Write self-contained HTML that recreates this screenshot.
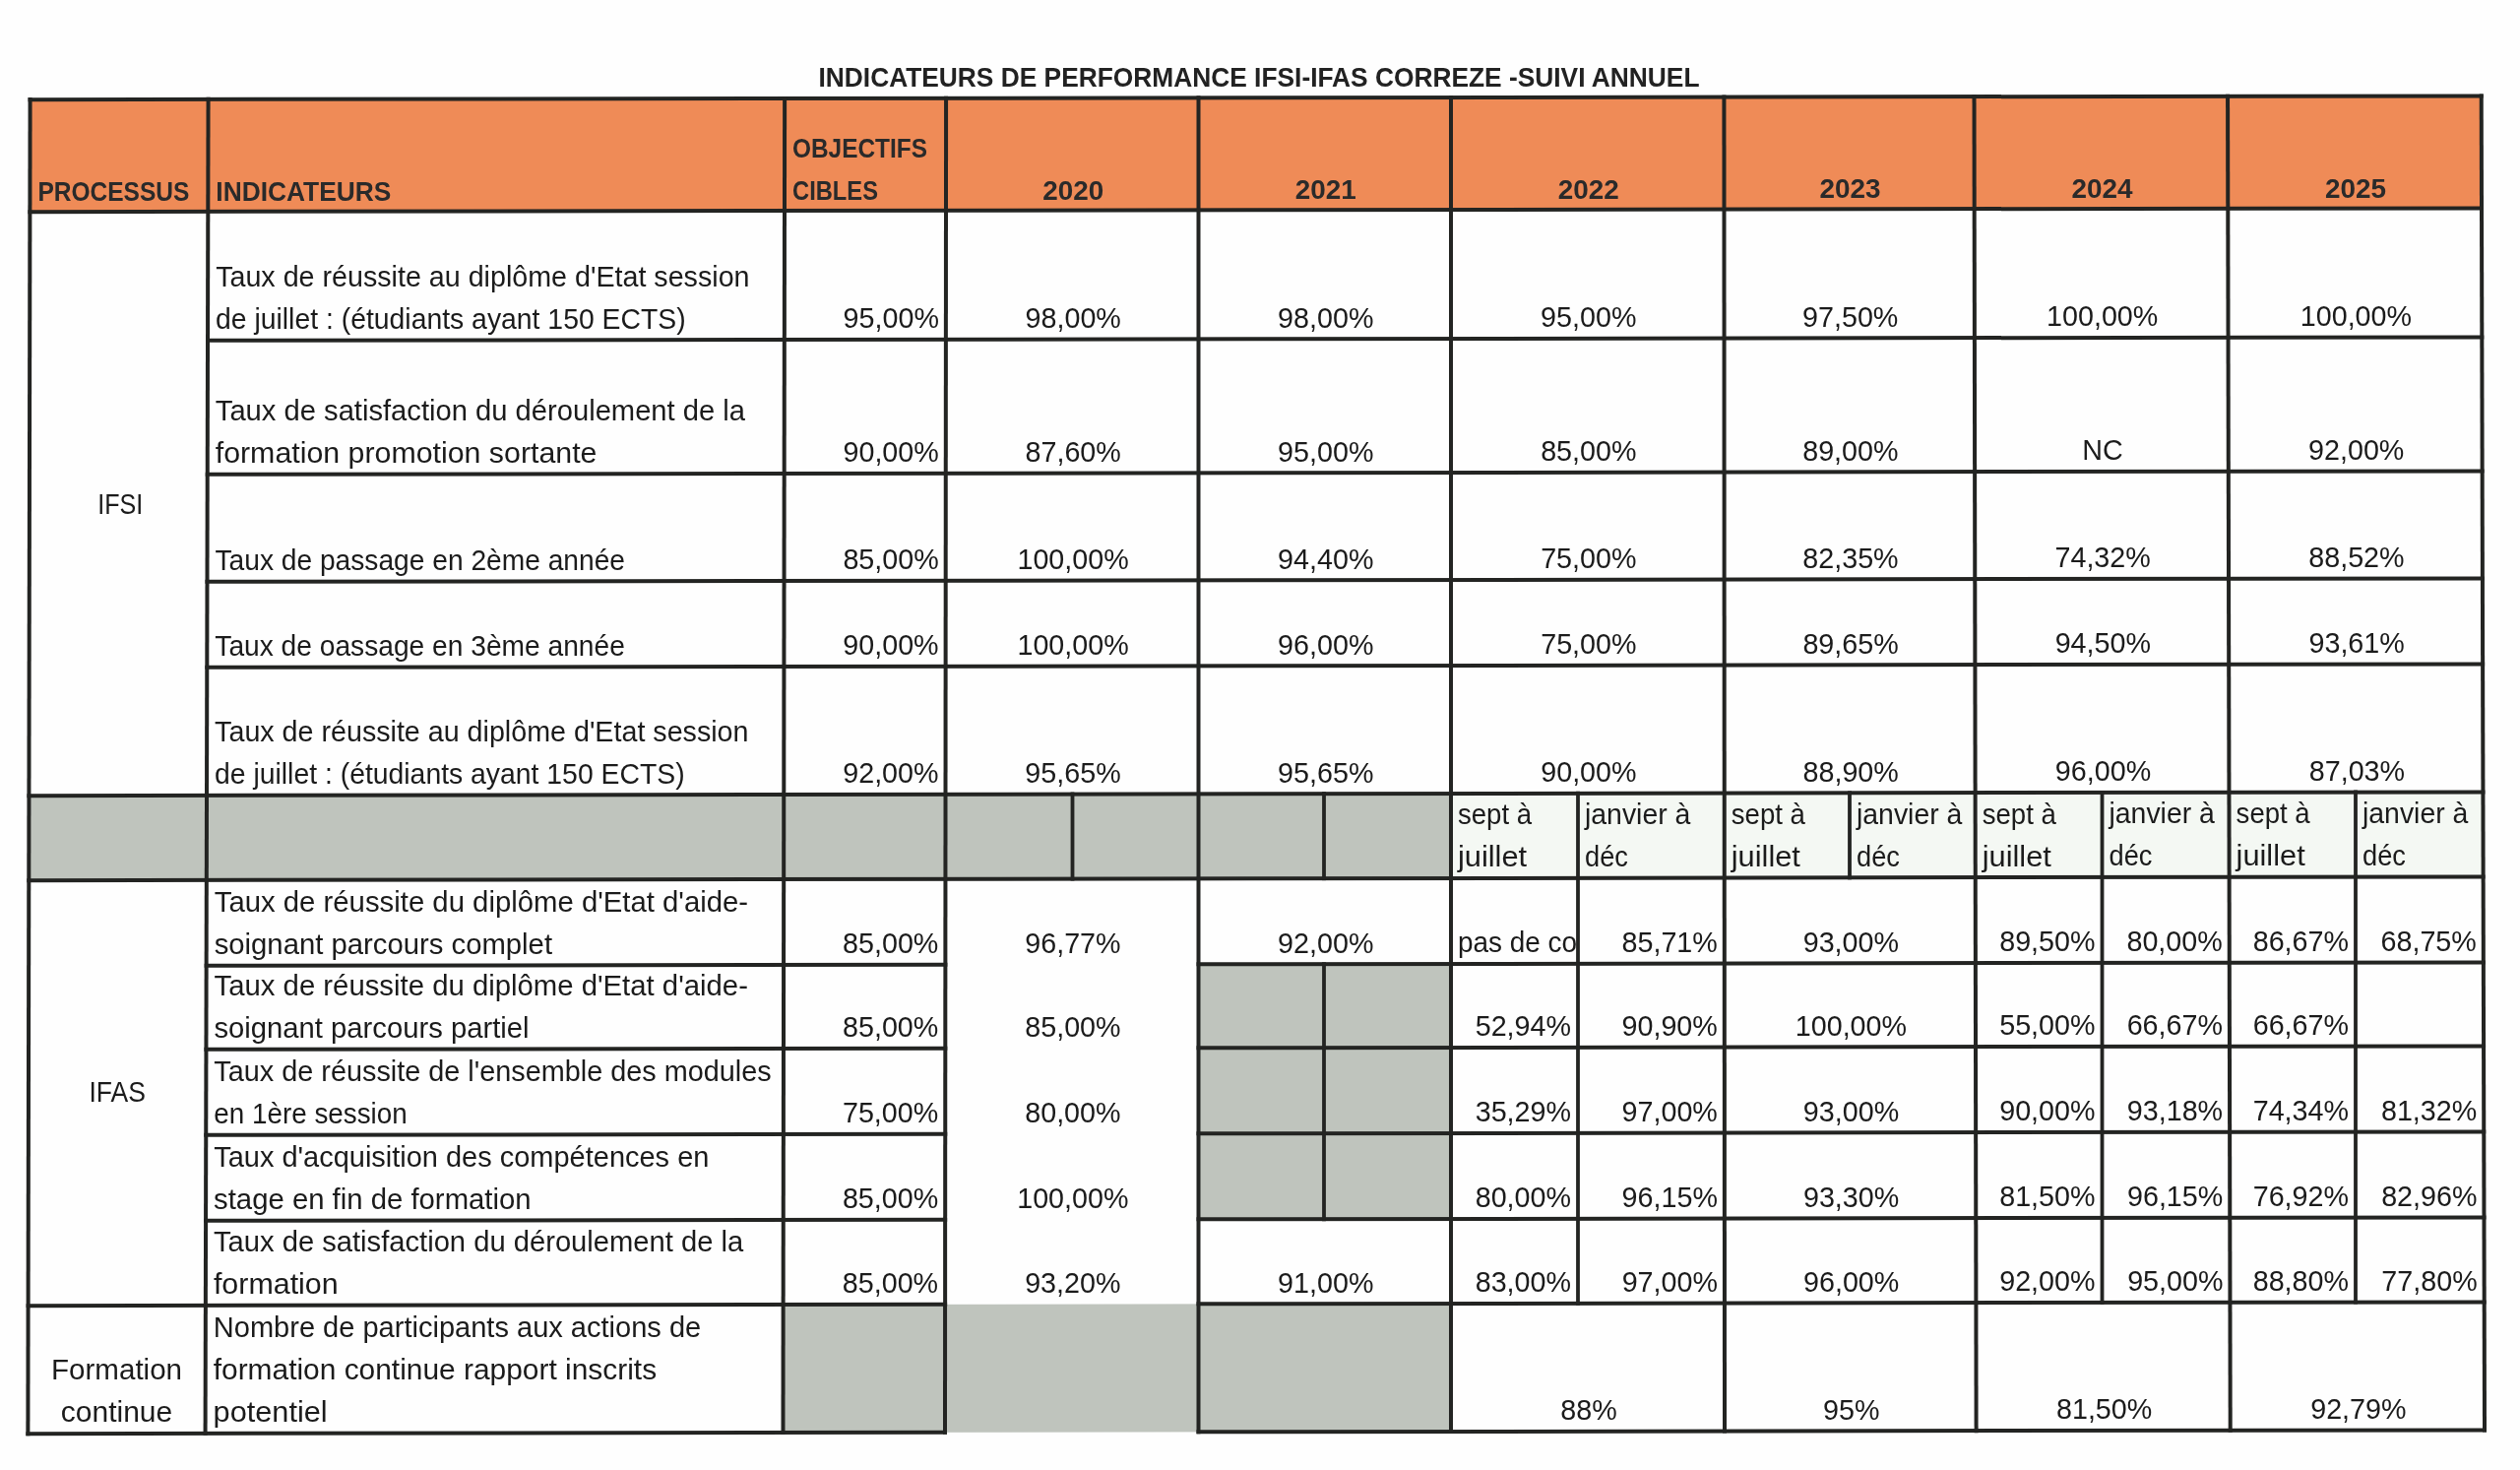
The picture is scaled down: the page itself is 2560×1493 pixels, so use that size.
<!DOCTYPE html>
<html><head><meta charset="utf-8"><title>Indicateurs de performance IFSI-IFAS Correze</title>
<style>
html,body{margin:0;padding:0;background:#fefefe;overflow:hidden;}
svg{display:block;font-family:"Liberation Sans", sans-serif;will-change:transform;}
</style></head>
<body>
<svg width="2560" height="1493" viewBox="0 0 2560 1493" font-size="28.7" fill="#1b1b1b">
<defs><clipPath id="clp"><rect x="1476.00" y="891.96" width="125.40" height="87"/></clipPath></defs>
<rect x="0" y="0" width="2560" height="1493" fill="#fefefe"/>
<text x="1279" y="87.6" text-anchor="middle" font-weight="bold" font-size="28.5" fill="#222" textLength="895" lengthAdjust="spacingAndGlyphs">INDICATEURS DE PERFORMANCE IFSI-IFAS CORREZE -SUIVI ANNUEL</text>
<polygon points="30.59,101.12 2520.72,97.39 2521.00,211.39 30.40,215.12" fill="#ef8b57"/>
<polygon points="29.44,808.13 1474.00,805.96 1474.00,891.96 29.30,894.13" fill="#bfc4bd"/>
<polygon points="1474.00,805.96 2522.44,804.39 2522.65,890.39 1474.00,891.96" fill="#f4f8f3"/>
<polygon points="1217.50,979.34 1474.00,978.96 1474.00,1237.96 1217.50,1238.34" fill="#bfc4bd"/>
<polygon points="795.65,1324.98 1474.00,1323.96 1474.00,1453.96 795.49,1454.98" fill="#bfc4bd"/>
<polygon points="28.59,99.13 2522.72,95.39 2522.72,99.39 28.59,103.13" fill="#232422"/>
<polygon points="28.40,213.13 2523.00,209.39 2523.00,213.39 28.40,217.13" fill="#232422"/>
<polygon points="27.44,806.13 2524.44,802.38 2524.44,806.38 27.44,810.13" fill="#232422"/>
<polygon points="27.30,892.13 2524.65,888.38 2524.65,892.38 27.30,896.13" fill="#232422"/>
<polygon points="209.02,343.86 2523.32,340.39 2523.32,344.39 209.02,347.86" fill="#232422"/>
<polygon points="208.72,479.86 2523.65,476.38 2523.65,480.38 208.72,483.86" fill="#232422"/>
<polygon points="208.48,588.86 2523.91,585.38 2523.91,589.38 208.48,592.86" fill="#232422"/>
<polygon points="208.29,675.86 2524.12,672.38 2524.12,676.38 208.29,679.86" fill="#232422"/>
<polygon points="207.63,978.86 962.38,977.73 962.38,981.73 207.63,982.86" fill="#232422"/>
<polygon points="1215.50,977.35 2524.86,975.38 2524.86,979.38 1215.50,981.35" fill="#232422"/>
<polygon points="207.44,1063.86 962.31,1062.73 962.31,1066.73 207.44,1067.86" fill="#232422"/>
<polygon points="1215.50,1062.35 2525.06,1060.38 2525.06,1064.38 1215.50,1066.35" fill="#232422"/>
<polygon points="207.25,1150.86 962.24,1149.73 962.24,1153.73 207.25,1154.86" fill="#232422"/>
<polygon points="1215.50,1149.35 2525.28,1147.38 2525.28,1151.38 1215.50,1153.35" fill="#232422"/>
<polygon points="207.06,1237.86 962.17,1236.73 962.17,1240.73 207.06,1241.86" fill="#232422"/>
<polygon points="1215.50,1236.35 2525.49,1234.38 2525.49,1238.38 1215.50,1240.35" fill="#232422"/>
<polygon points="26.60,1324.13 962.10,1322.73 962.10,1326.73 26.60,1328.13" fill="#232422"/>
<polygon points="1215.50,1322.35 2525.70,1320.38 2525.70,1324.38 1215.50,1326.35" fill="#232422"/>
<polygon points="26.39,1454.13 962.00,1452.73 962.00,1456.73 26.39,1458.13" fill="#232422"/>
<polygon points="1215.50,1452.35 2526.01,1450.38 2526.01,1454.38 1215.50,1456.35" fill="#232422"/>
<polygon points="28.59,99.12 32.59,99.12 30.39,1458.13 26.39,1458.13" fill="#232422"/>
<polygon points="209.56,98.85 213.56,98.85 210.58,1457.86 206.58,1457.86" fill="#232422"/>
<polygon points="795.14,97.97 799.14,97.97 797.49,1456.98 793.49,1456.98" fill="#232422"/>
<polygon points="959.09,97.73 963.09,97.73 961.99,1456.73 957.99,1456.73" fill="#232422"/>
<polygon points="1215.50,97.34 1219.50,97.34 1219.50,1456.34 1215.50,1456.34" fill="#232422"/>
<polygon points="1472.00,96.96 1476.00,96.96 1476.00,1455.96 1472.00,1455.96" fill="#232422"/>
<polygon points="1749.45,96.54 1753.45,96.54 1754.00,1455.54 1750.00,1455.54" fill="#232422"/>
<polygon points="2003.52,96.16 2007.52,96.16 2009.61,1455.16 2005.61,1455.16" fill="#232422"/>
<polygon points="2261.07,95.78 2265.07,95.78 2267.71,1454.77 2263.71,1454.77" fill="#232422"/>
<polygon points="2518.72,95.39 2522.72,95.39 2526.02,1454.38 2522.02,1454.38" fill="#232422"/>
<polygon points="1087.60,804.54 1091.40,804.54 1091.40,894.54 1087.60,894.54" fill="#232422"/>
<polygon points="1343.10,804.15 1346.90,804.15 1346.90,894.15 1343.10,894.15" fill="#232422"/>
<polygon points="1343.10,977.15 1346.90,977.15 1346.90,1240.15 1343.10,1240.15" fill="#232422"/>
<polygon points="1601.10,803.77 1604.90,803.77 1604.90,1325.77 1601.10,1325.77" fill="#232422"/>
<polygon points="1877.10,803.35 1880.90,803.35 1880.90,893.35 1877.10,893.35" fill="#232422"/>
<polygon points="2133.60,802.97 2137.40,802.97 2137.40,1324.97 2133.60,1324.97" fill="#232422"/>
<polygon points="2391.10,802.58 2394.90,802.58 2394.90,1324.58 2391.10,1324.58" fill="#232422"/>
<text x="38.42" y="204.11" font-weight="bold" font-size="28.5" fill="#2a2a2a" textLength="154" lengthAdjust="spacingAndGlyphs">PROCESSUS</text>
<text x="219.33" y="203.84" font-weight="bold" font-size="28.5" fill="#2a2a2a" textLength="178" lengthAdjust="spacingAndGlyphs">INDICATEURS</text>
<text x="805.01" y="159.96" font-weight="bold" font-size="28.5" fill="#2a2a2a" textLength="137" lengthAdjust="spacingAndGlyphs">OBJECTIFS</text>
<text x="805.01" y="202.96" font-weight="bold" font-size="28.5" fill="#2a2a2a" textLength="87" lengthAdjust="spacingAndGlyphs">CIBLES</text>
<text x="1090.25" y="202.53" text-anchor="middle" font-weight="bold" font-size="28.5" fill="#2a2a2a" textLength="62" lengthAdjust="spacingAndGlyphs">2020</text>
<text x="1346.75" y="202.15" text-anchor="middle" font-weight="bold" font-size="28.5" fill="#2a2a2a" textLength="62" lengthAdjust="spacingAndGlyphs">2021</text>
<text x="1613.75" y="201.75" text-anchor="middle" font-weight="bold" font-size="28.5" fill="#2a2a2a" textLength="62" lengthAdjust="spacingAndGlyphs">2022</text>
<text x="1879.59" y="201.35" text-anchor="middle" font-weight="bold" font-size="28.5" fill="#2a2a2a" textLength="62" lengthAdjust="spacingAndGlyphs">2023</text>
<text x="2135.48" y="200.97" text-anchor="middle" font-weight="bold" font-size="28.5" fill="#2a2a2a" textLength="62" lengthAdjust="spacingAndGlyphs">2024</text>
<text x="2393.12" y="200.58" text-anchor="middle" font-weight="bold" font-size="28.5" fill="#2a2a2a" textLength="62" lengthAdjust="spacingAndGlyphs">2025</text>
<text x="219.13" y="291.34" textLength="542.4" lengthAdjust="spacingAndGlyphs">Taux de réussite au diplôme d&#39;Etat session</text>
<text x="219.04" y="334.34" textLength="477.6" lengthAdjust="spacingAndGlyphs">de juillet : (étudiants ayant 150 ECTS)</text>
<text x="953.90" y="333.24" text-anchor="end">95,00%</text>
<text x="1090.20" y="333.03" text-anchor="middle">98,00%</text>
<text x="1346.75" y="332.65" text-anchor="middle">98,00%</text>
<text x="1613.77" y="332.25" text-anchor="middle">95,00%</text>
<text x="1879.72" y="331.85" text-anchor="middle">97,50%</text>
<text x="2135.71" y="331.47" text-anchor="middle">100,00%</text>
<text x="2393.41" y="331.08" text-anchor="middle">100,00%</text>
<text x="218.84" y="427.34" textLength="538.2" lengthAdjust="spacingAndGlyphs">Taux de satisfaction du déroulement de la</text>
<text x="218.74" y="470.34" textLength="387.7" lengthAdjust="spacingAndGlyphs">formation promotion sortante</text>
<text x="953.79" y="469.24" text-anchor="end">90,00%</text>
<text x="1090.15" y="469.03" text-anchor="middle">87,60%</text>
<text x="1346.75" y="468.65" text-anchor="middle">95,00%</text>
<text x="1613.80" y="468.25" text-anchor="middle">85,00%</text>
<text x="1879.85" y="467.85" text-anchor="middle">89,00%</text>
<text x="2135.94" y="467.47" text-anchor="middle">NC</text>
<text x="2393.71" y="467.08" text-anchor="middle">92,00%</text>
<text x="218.51" y="579.34" textLength="416.5" lengthAdjust="spacingAndGlyphs">Taux de passage en 2ème année</text>
<text x="953.71" y="578.24" text-anchor="end">85,00%</text>
<text x="1090.10" y="578.03" text-anchor="middle">100,00%</text>
<text x="1346.75" y="577.65" text-anchor="middle">94,40%</text>
<text x="1613.82" y="577.25" text-anchor="middle">75,00%</text>
<text x="1879.95" y="576.85" text-anchor="middle">82,35%</text>
<text x="2136.13" y="576.47" text-anchor="middle">74,32%</text>
<text x="2393.94" y="576.08" text-anchor="middle">88,52%</text>
<text x="218.32" y="666.34" textLength="416.5" lengthAdjust="spacingAndGlyphs">Taux de oassage en 3ème année</text>
<text x="953.64" y="665.24" text-anchor="end">90,00%</text>
<text x="1090.07" y="665.03" text-anchor="middle">100,00%</text>
<text x="1346.75" y="664.65" text-anchor="middle">96,00%</text>
<text x="1613.84" y="664.25" text-anchor="middle">75,00%</text>
<text x="1880.04" y="663.85" text-anchor="middle">89,65%</text>
<text x="2136.28" y="663.47" text-anchor="middle">94,50%</text>
<text x="2394.13" y="663.08" text-anchor="middle">93,61%</text>
<text x="218.12" y="753.34" textLength="542.4" lengthAdjust="spacingAndGlyphs">Taux de réussite au diplôme d&#39;Etat session</text>
<text x="218.03" y="796.34" textLength="477.6" lengthAdjust="spacingAndGlyphs">de juillet : (étudiants ayant 150 ECTS)</text>
<text x="953.53" y="795.24" text-anchor="end">92,00%</text>
<text x="1090.01" y="795.03" text-anchor="middle">95,65%</text>
<text x="1346.75" y="794.65" text-anchor="middle">95,65%</text>
<text x="1613.87" y="794.25" text-anchor="middle">90,00%</text>
<text x="1880.16" y="793.85" text-anchor="middle">88,90%</text>
<text x="2136.51" y="793.47" text-anchor="middle">96,00%</text>
<text x="2394.42" y="793.08" text-anchor="middle">87,03%</text>
<text x="122.27" y="521.99" text-anchor="middle" textLength="46.0" lengthAdjust="spacingAndGlyphs">IFSI</text>
<text x="119.13" y="1118.99" text-anchor="middle" textLength="57.5" lengthAdjust="spacingAndGlyphs">IFAS</text>
<text x="118.51" y="1401.49" text-anchor="middle" textLength="133.1" lengthAdjust="spacingAndGlyphs">Formation</text>
<text x="118.51" y="1444.49" text-anchor="middle" textLength="113.3" lengthAdjust="spacingAndGlyphs">continue</text>
<text x="1481.00" y="837.45" textLength="75.1" lengthAdjust="spacingAndGlyphs">sept à</text>
<text x="1481.00" y="880.45" textLength="70.1" lengthAdjust="spacingAndGlyphs">juillet</text>
<text x="1610.00" y="837.25" textLength="107.4" lengthAdjust="spacingAndGlyphs">janvier à</text>
<text x="1610.00" y="880.25" textLength="43.9" lengthAdjust="spacingAndGlyphs">déc</text>
<text x="1758.77" y="837.03" textLength="75.1" lengthAdjust="spacingAndGlyphs">sept à</text>
<text x="1758.77" y="880.03" textLength="70.1" lengthAdjust="spacingAndGlyphs">juillet</text>
<text x="1886.00" y="836.84" textLength="107.4" lengthAdjust="spacingAndGlyphs">janvier à</text>
<text x="1886.00" y="879.84" textLength="43.9" lengthAdjust="spacingAndGlyphs">déc</text>
<text x="2013.73" y="836.65" textLength="75.1" lengthAdjust="spacingAndGlyphs">sept à</text>
<text x="2013.73" y="879.65" textLength="70.1" lengthAdjust="spacingAndGlyphs">juillet</text>
<text x="2142.50" y="836.46" textLength="107.4" lengthAdjust="spacingAndGlyphs">janvier à</text>
<text x="2142.50" y="879.46" textLength="43.9" lengthAdjust="spacingAndGlyphs">déc</text>
<text x="2271.60" y="836.26" textLength="75.1" lengthAdjust="spacingAndGlyphs">sept à</text>
<text x="2271.60" y="879.26" textLength="70.1" lengthAdjust="spacingAndGlyphs">juillet</text>
<text x="2400.00" y="836.07" textLength="107.4" lengthAdjust="spacingAndGlyphs">janvier à</text>
<text x="2400.00" y="879.07" textLength="43.9" lengthAdjust="spacingAndGlyphs">déc</text>
<text x="217.75" y="926.34" textLength="542.4" lengthAdjust="spacingAndGlyphs">Taux de réussite du diplôme d&#39;Etat d&#39;aide-</text>
<text x="217.65" y="969.34" textLength="343.4" lengthAdjust="spacingAndGlyphs">soignant parcours complet</text>
<text x="953.39" y="968.24" text-anchor="end">85,00%</text>
<text x="1089.94" y="968.04" text-anchor="middle">96,77%</text>
<text x="1346.75" y="967.65" text-anchor="middle">92,00%</text>
<text x="1481.00" y="967.45" textLength="121" lengthAdjust="spacingAndGlyphs" clip-path="url(#clp)">pas de co</text>
<text x="1744.81" y="967.05" text-anchor="end">85,71%</text>
<text x="1880.33" y="966.85" text-anchor="middle">93,00%</text>
<text x="2128.50" y="966.48" text-anchor="end">89,50%</text>
<text x="2257.76" y="966.28" text-anchor="end">80,00%</text>
<text x="2386.00" y="966.09" text-anchor="end">86,67%</text>
<text x="2515.83" y="965.90" text-anchor="end">68,75%</text>
<text x="217.56" y="1011.34" textLength="542.4" lengthAdjust="spacingAndGlyphs">Taux de réussite du diplôme d&#39;Etat d&#39;aide-</text>
<text x="217.47" y="1054.34" textLength="320.1" lengthAdjust="spacingAndGlyphs">soignant parcours partiel</text>
<text x="953.32" y="1053.24" text-anchor="end">85,00%</text>
<text x="1089.91" y="1053.04" text-anchor="middle">85,00%</text>
<text x="1596.00" y="1052.28" text-anchor="end">52,94%</text>
<text x="1744.84" y="1052.05" text-anchor="end">90,90%</text>
<text x="1880.41" y="1051.85" text-anchor="middle">100,00%</text>
<text x="2128.50" y="1051.48" text-anchor="end">55,00%</text>
<text x="2257.93" y="1051.28" text-anchor="end">66,67%</text>
<text x="2386.00" y="1051.09" text-anchor="end">66,67%</text>
<text x="217.37" y="1098.34" textLength="566.3" lengthAdjust="spacingAndGlyphs">Taux de réussite de l&#39;ensemble des modules</text>
<text x="217.28" y="1141.34" textLength="196.5" lengthAdjust="spacingAndGlyphs">en 1ère session</text>
<text x="953.25" y="1140.24" text-anchor="end">75,00%</text>
<text x="1089.88" y="1140.04" text-anchor="middle">80,00%</text>
<text x="1596.00" y="1139.28" text-anchor="end">35,29%</text>
<text x="1744.87" y="1139.05" text-anchor="end">97,00%</text>
<text x="1880.50" y="1138.85" text-anchor="middle">93,00%</text>
<text x="2128.50" y="1138.48" text-anchor="end">90,00%</text>
<text x="2258.10" y="1138.28" text-anchor="end">93,18%</text>
<text x="2386.00" y="1138.09" text-anchor="end">74,34%</text>
<text x="2516.25" y="1137.90" text-anchor="end">81,32%</text>
<text x="217.18" y="1185.34" textLength="503.2" lengthAdjust="spacingAndGlyphs">Taux d&#39;acquisition des compétences en</text>
<text x="217.09" y="1228.34" textLength="322.5" lengthAdjust="spacingAndGlyphs">stage en fin de formation</text>
<text x="953.18" y="1227.24" text-anchor="end">85,00%</text>
<text x="1089.84" y="1227.04" text-anchor="middle">100,00%</text>
<text x="1596.00" y="1226.28" text-anchor="end">80,00%</text>
<text x="1744.91" y="1226.05" text-anchor="end">96,15%</text>
<text x="1880.58" y="1225.85" text-anchor="middle">93,30%</text>
<text x="2128.50" y="1225.48" text-anchor="end">81,50%</text>
<text x="2258.27" y="1225.28" text-anchor="end">96,15%</text>
<text x="2386.00" y="1225.09" text-anchor="end">76,92%</text>
<text x="2516.46" y="1224.90" text-anchor="end">82,96%</text>
<text x="216.99" y="1271.34" textLength="538.2" lengthAdjust="spacingAndGlyphs">Taux de satisfaction du déroulement de la</text>
<text x="216.90" y="1314.34" textLength="126.8" lengthAdjust="spacingAndGlyphs">formation</text>
<text x="953.11" y="1313.24" text-anchor="end">85,00%</text>
<text x="1089.81" y="1313.04" text-anchor="middle">93,20%</text>
<text x="1346.75" y="1312.65" text-anchor="middle">91,00%</text>
<text x="1596.00" y="1312.28" text-anchor="end">83,00%</text>
<text x="1744.94" y="1312.05" text-anchor="end">97,00%</text>
<text x="1880.67" y="1311.85" text-anchor="middle">96,00%</text>
<text x="2128.50" y="1311.48" text-anchor="end">92,00%</text>
<text x="2258.43" y="1311.28" text-anchor="end">95,00%</text>
<text x="2386.00" y="1311.09" text-anchor="end">88,80%</text>
<text x="2516.67" y="1310.89" text-anchor="end">77,80%</text>
<text x="216.80" y="1358.34" textLength="495.4" lengthAdjust="spacingAndGlyphs">Nombre de participants aux actions de</text>
<text x="216.71" y="1401.34" textLength="450.4" lengthAdjust="spacingAndGlyphs">formation continue rapport inscrits</text>
<text x="216.61" y="1444.35" textLength="116.0" lengthAdjust="spacingAndGlyphs">potentiel</text>
<text x="1614.00" y="1442.25" text-anchor="middle">88%</text>
<text x="1880.79" y="1441.85" text-anchor="middle">95%</text>
<text x="2137.64" y="1441.46" text-anchor="middle">81,50%</text>
<text x="2395.84" y="1441.08" text-anchor="middle">92,79%</text>
</svg>
</body></html>
